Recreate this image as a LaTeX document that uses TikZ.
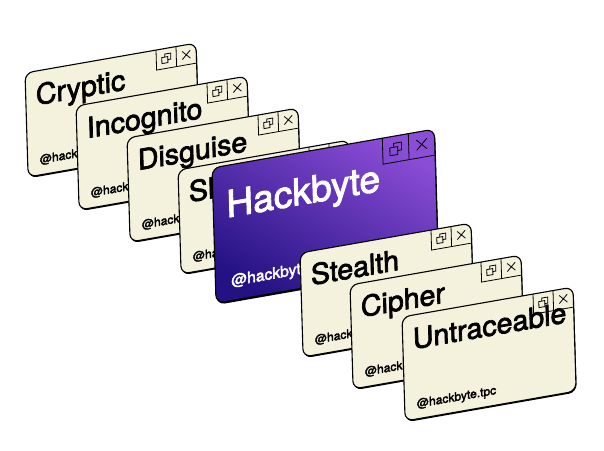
\documentclass[tikz,border=0pt]{standalone}
\usepackage{fontspec}
\setmainfont{TeX Gyre Heros}
\newfontfamily\titlefont{TeX Gyre Heros}[RawFeature={embolden=2.5}]

\definecolor{cardcream}{RGB}{244,241,220}
\definecolor{hblight}{RGB}{139,77,214}
\definecolor{hbdark}{RGB}{36,18,132}

% one window card: name, x, y (from top), scale, title, style, text colour, title depth
\newcommand{\hackcard}[8]{%
  \begin{scope}[shift={(#2,450-#3)}, cm={1,0.175,-0.03,1,(0,0)}, scale=#4, transform shape]
    \fill[black, rounded corners=8] (0.6,-1.4) rectangle (171.6,-105.4);
    \draw[#6] (0,0) rectangle (171,-104);
    \draw[winline] (131,0) -- (131,-20) -- (171,-20) (151,0) -- (151,-20);
    \draw[winline] (139.5,-8.5) -- (139.5,-5.5) -- (145.5,-5.5) -- (145.5,-11.5) -- (142.5,-11.5);
    \draw[winline] (136.5,-8.5) rectangle (142.5,-14.5);
    \draw[winline] (157,-6) -- (165,-14) (157,-14) -- (165,-6);
    \node[title, text=#7] (#1) at (10,-#8) {#5};
    \node[handle, text=#7] (#1-tag) at (12,-93) {@hackbyte.tpc};
  \end{scope}}

\begin{document}
\begin{tikzpicture}[x=1pt, y=1pt,
        card/.style={draw=black, line width=1.1pt, rounded corners=8},
        creamcard/.style={card, fill=cardcream},
        violetcard/.style={card, top color=hblight, bottom color=hbdark, shading angle=-30},
        winline/.style={draw=black, line width=0.8pt},
        title/.style={anchor=base west, inner sep=0pt, font=\titlefont\fontsize{28.5}{30}\selectfont},
        handle/.style={anchor=base west, inner sep=0pt, font=\titlefont\fontsize{12}{14}\selectfont}
    ]
    \fill[white] (0,0) rectangle (604,450);
    \useasboundingbox (0,0) rectangle (604,450);

    \hackcard{cryptic}{25}{73}{1}{Cryptic}{creamcard}{black}{34}
    \hackcard{incognito}{76}{106}{1}{Incognito}{creamcard}{black}{34}
    \hackcard{disguise}{127}{138}{1}{Disguise}{creamcard}{black}{34}
    \hackcard{shadow}{178}{170}{1}{Shadow}{creamcard}{black}{34}
    \hackcard{hackbyte}{212}{168}{1.3}{Hackbyte}{violetcard}{white}{40}
    \hackcard{stealth}{300}{253}{1}{Stealth}{creamcard}{black}{34}
    \hackcard{cipher}{350}{285}{1}{Cipher}{creamcard}{black}{34}
    \hackcard{untraceable}{402}{317}{1}{Untraceable}{creamcard}{black}{34}
\end{tikzpicture}
\end{document}
